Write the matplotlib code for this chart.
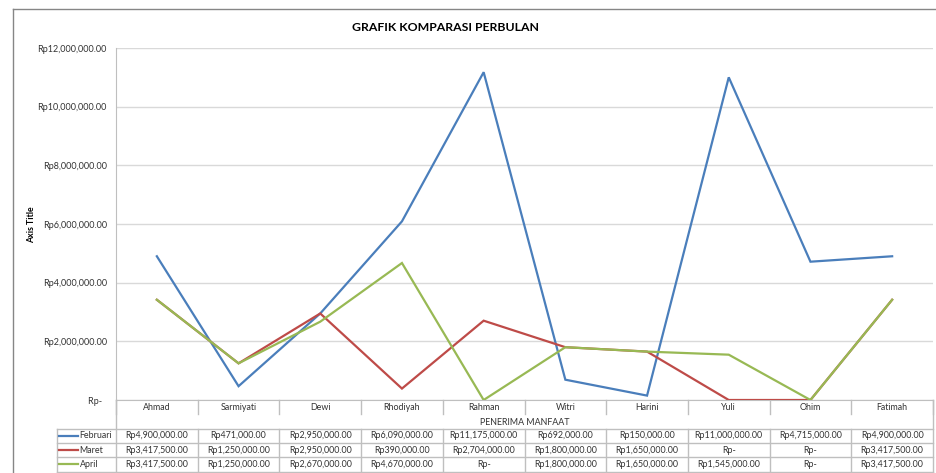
import matplotlib
matplotlib.use("Agg")
import matplotlib.pyplot as plt
from matplotlib.lines import Line2D
from matplotlib.transforms import blended_transform_factory
from matplotlib.ticker import FuncFormatter, MultipleLocator

categories = ["Ahmad", "Sarmiyati", "Dewi", "Rhodiyah", "Rahman", "Witri",
              "Harini", "Yuli", "Ohim", "Fatimah"]
februari = [4900000, 471000, 2950000, 6090000, 11175000, 692000, 150000,
            11000000, 4715000, 4900000]
maret = [3417500, 1250000, 2950000, 390000, 2704000, 1800000, 1650000,
         0, 0, 3417500]
april = [3417500, 1250000, 2670000, 4670000, 0, 1800000, 1650000,
         1545000, 0, 3417500]
series_names = ["Februari", "Maret", "April"]
series_values = [februari, maret, april]
colors = ["#4A7EBB", "#BE4B48", "#98B954"]

title = "GRAFIK KOMPARASI PERBULAN"
y_title = "Axis Title"
x_title = "PENERIMA MANFAAT"

plt.rcParams['font.family'] = ['Lato', 'DejaVu Sans']

W, H = 937, 473
fig = plt.figure(figsize=(W / 100, H / 100), dpi=100)

def fx(x):
    return x / W

def fy(y):
    return 1 - y / H

ax_l, ax_r, ax_t, ax_b = 116, 933, 48, 400
ax = fig.add_axes([fx(ax_l), fy(ax_b), fx(ax_r) - fx(ax_l), fy(ax_t) - fy(ax_b)])

x = list(range(len(categories)))
for name, vals, c in zip(series_names, series_values, colors):
    ax.plot(x, vals, color=c, lw=1.6, solid_joinstyle='miter', zorder=3)

ax.set_xlim(-0.5, len(categories) - 0.5)
ax.set_ylim(0, 12000000)
ax.yaxis.set_major_locator(MultipleLocator(2000000))

FS = 6.4
TXT = "#333333"

def money(v, pos=None):
    if v == 0:
        return "Rp-"
    return "Rp{:,.2f}".format(v)

def ytick(v, pos=None):
    if v == 0:
        return "Rp-  "
    return "Rp{:,.2f}".format(v)

ax.yaxis.set_major_formatter(FuncFormatter(ytick))
ax.tick_params(axis='y', length=0, pad=6.5, labelsize=6.5, labelcolor=TXT)
ax.set_xticks([])
ax.grid(axis='y', color="#D9D9D9", lw=1)
ax.set_axisbelow(True)
for s in ["top", "right"]:
    ax.spines[s].set_visible(False)
ax.spines["left"].set_color("#BFBFBF")
ax.spines["bottom"].set_color("#BFBFBF")

# titles
fig.text(fx(446), fy(27.5), title, ha='center', va='center', fontsize=8.8,
         fontweight='bold', color="#000000")
fig.text(fx(32), fy(225), y_title, ha='center', va='center', rotation=90,
         fontsize=6.3, fontweight='bold', color="#000000")

# data table
tr = blended_transform_factory(ax.transData, fig.transFigure)
ftr = fig.transFigure
line_c = "#BFBFBF"

def vline(xv, y0, y1, transform):
    ax.add_line(Line2D([xv, xv], [y0, y1], transform=transform, color=line_c,
                       lw=1, clip_on=False))

n = len(categories)
for i in range(n + 1):
    vline(i - 0.5, fy(400), fy(414), tr)
for i, cat in enumerate(categories):
    ax.text(i, fy(407.5), cat, transform=tr, ha='center', va='center',
            fontsize=FS, color=TXT, clip_on=False)
ax.text((n - 1) / 2, fy(422), x_title, transform=tr, ha='center', va='center',
        fontsize=FS, color=TXT, clip_on=False)

vline(n - 0.5, fy(400), fy(471.5), tr)
vline(fx(ax_l), fy(400), fy(471.5), ftr)
vline(fx(57), fy(428.5), fy(471.5), ftr)

row_lines = [428.5, 443, 457, 471.5]
for yl in row_lines:
    ax.add_line(Line2D([fx(57), fx(ax_r)], [fy(yl), fy(yl)], transform=ftr,
                       color=line_c, lw=1, clip_on=False))
for i in range(1, n):
    vline(i - 0.5, fy(428.5), fy(471.5), tr)

row_centers = [435.5, 450, 464]
for name, vals, c, yc in zip(series_names, series_values, colors, row_centers):
    ax.add_line(Line2D([fx(59), fx(78)], [fy(yc), fy(yc)], transform=ftr,
                       color=c, lw=1.6, clip_on=False))
    fig.text(fx(79.5), fy(yc), name, ha='left', va='center', fontsize=FS,
             color=TXT)
    for i, v in enumerate(vals):
        ax.text(i, fy(yc), money(v), transform=tr, ha='center', va='center',
                fontsize=FS, color=TXT, clip_on=False)

# outer chart border
fig.add_artist(Line2D([fx(13.5), fx(13.5)], [0, fy(9.5)], transform=ftr,
                      color="#868686", lw=1))
fig.add_artist(Line2D([fx(13.5), 1], [fy(9.5), fy(9.5)], transform=ftr,
                      color="#868686", lw=1))

fig.savefig("out.png", dpi=100, facecolor="white")
